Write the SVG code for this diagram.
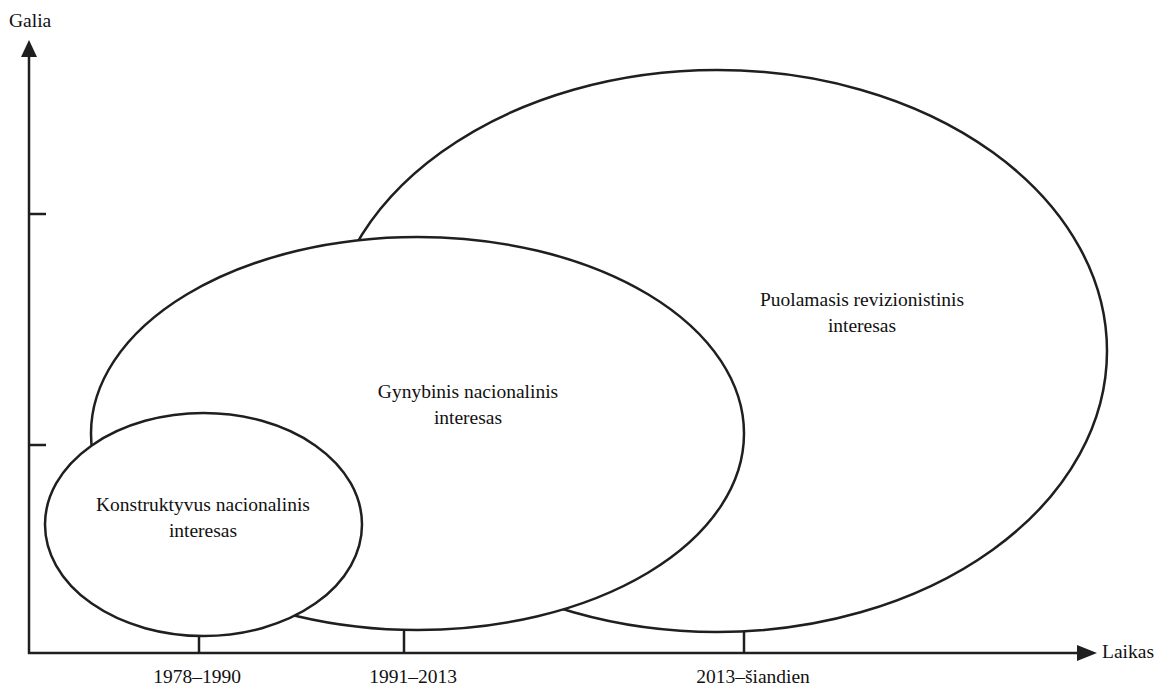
<svg xmlns="http://www.w3.org/2000/svg" width="1157" height="686" viewBox="0 0 1157 686">
<style>
.ax{stroke:#1f1f1f;stroke-width:2.5;fill:none}
.el{stroke:#1f1f1f;stroke-width:2.5;fill:#fff}
.t{font-family:"Liberation Serif","Times New Roman",serif;font-size:19.5px;fill:#111}
.m{text-anchor:middle}
</style>
<rect width="1157" height="686" fill="#fff"/>
<g id="axes">
<line class="ax" x1="29" y1="55" x2="29" y2="654"/>
<line class="ax" x1="28" y1="653" x2="1080" y2="653"/>
<polygon points="29,40 21,57 37,57" fill="#1f1f1f"/>
<polygon points="1097,653 1077,645 1077,661" fill="#1f1f1f"/>
<line class="ax" x1="29" y1="214" x2="46" y2="214"/>
<line class="ax" x1="29" y1="445" x2="46" y2="445"/>
<line class="ax" x1="199" y1="630" x2="199" y2="653"/>
<line class="ax" x1="404" y1="625" x2="404" y2="653"/>
<line class="ax" x1="744" y1="625" x2="744" y2="653"/>
<text class="t" x="9" y="27">Galia</text>
<text class="t" x="1102" y="658">Laikas</text>
<text class="t m" x="197" y="683">1978–1990</text>
<text class="t m" x="413" y="683">1991–2013</text>
<text class="t m" x="753" y="683">2013–šiandien</text>
</g>
<g id="puolamasis">
<ellipse class="el" cx="717" cy="351" rx="390" ry="281"/>
<text class="t m" x="862" y="306">Puolamasis revizionistinis</text>
<text class="t m" x="862" y="332">interesas</text>
</g>
<g id="gynybinis">
<ellipse class="el" cx="417.5" cy="433.5" rx="326.5" ry="196.5"/>
<text class="t m" x="468" y="398">Gynybinis nacionalinis</text>
<text class="t m" x="468" y="424">interesas</text>
</g>
<g id="konstruktyvus">
<ellipse class="el" cx="203.5" cy="524.5" rx="158.5" ry="111.5"/>
<text class="t m" x="203" y="511">Konstruktyvus nacionalinis</text>
<text class="t m" x="203" y="537">interesas</text>
</g>
</svg>
